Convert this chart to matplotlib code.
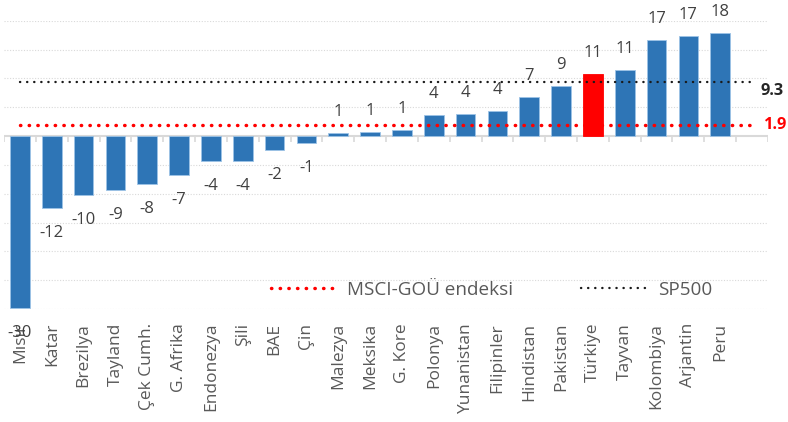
import numpy as np
import matplotlib
matplotlib.use("Agg")
import matplotlib.pyplot as plt
from matplotlib.lines import Line2D

plt.rcParams['font.family'] = ['Open Sans', 'DejaVu Sans']

# Data
countries = ["Mısır", "Katar", "Brezilya", "Tayland", "Çek Cumh.", "G. Afrika",
             "Endonezya", "Şili", "BAE", "Çin", "Malezya", "Meksika", "G. Kore",
             "Polonya", "Yunanistan", "Filipinler", "Hindistan", "Pakistan",
             "Türkiye", "Tayvan", "Kolombiya", "Arjantin", "Peru"]
returns = [-29.8, -12.4, -10.3, -9.4, -8.4, -6.7, -4.4, -4.4, -2.4, -1.2,
           0.6, 0.7, 1.0, 3.6, 3.8, 4.3, 6.8, 8.7, 10.7, 11.4, 16.6, 17.3, 17.9]
highlight = "Türkiye"
msci_em = 1.9
sp500 = 9.3

blue = "#2E75B6"
red = "#FF0000"
label_col = "#404040"
tick_col = "#595959"

fig = plt.figure(figsize=(7.88, 4.22), dpi=100)
ax = fig.add_axes([4 / 788, 1 - 309 / 422, 764 / 788, (309 - 20.7) / 422])

n = len(countries)
x = np.arange(n)
colors = [red if c == highlight else blue for c in countries]
edges = [red if c == highlight else "#9DC3E6" for c in countries]
ax.bar(x, returns, width=0.62, color=colors, edgecolor=edges, linewidth=0.6, zorder=3)

# value labels
for xi, v in zip(x, returns):
    off = 15 if v > 0 else -18
    ax.annotate(f"{v:.0f}", (xi, v), xytext=(0, off), textcoords="offset points",
                ha="center", va="center", fontsize=12, color=label_col, zorder=5,
                annotation_clip=False)

# benchmark lines
ax.plot([0, n], [msci_em, msci_em], color=red, lw=2.5, linestyle=(0, (0.1, 2.4)),
        dash_capstyle="round", zorder=4)
ax.plot([0, n], [sp500, sp500], color="#1a1a1a", lw=1.7, linestyle=(0, (0.1, 2.9)),
        dash_capstyle="round", zorder=4)
ax.annotate(f"{sp500}", (n + 0.25, sp500), xytext=(0, -6.5), textcoords="offset points",
            ha="left", va="center", fontsize=11.8, fontweight="bold", color="#262626",
            annotation_clip=False)
ax.annotate(f"{msci_em}", (n + 0.36, msci_em), xytext=(0, 0), textcoords="offset points",
            ha="left", va="center", fontsize=11.8, fontweight="bold", color=red,
            annotation_clip=False)

# grid and zero axis
for g in np.arange(-30, 21, 5):
    if g != 0:
        ax.axhline(g, color="#D9D9D9", lw=0.8, linestyle=(0, (1, 1.5)), zorder=1)
ax.axhline(0, color="#D9D9D9", lw=1.5, zorder=2)
ax.vlines(np.arange(-0.5, n + 1), -1.0, 0, color="#D9D9D9", lw=1.2, zorder=2)

ax.set_xlim(-0.5, n + 0.5)
ax.set_ylim(-30, 20)
ax.set_yticks([])
ax.set_xticks(x)
ax.set_xticklabels(countries, rotation=90, fontsize=12.5, color=tick_col)
ax.tick_params(axis="x", length=0, pad=10)
for s in ax.spines.values():
    s.set_visible(False)

handles = [
    Line2D([], [], color=red, lw=2.5, linestyle=(0, (0.1, 2.4)), dash_capstyle="round"),
    Line2D([], [], color="#1a1a1a", lw=1.7, linestyle=(0, (0.1, 2.9)), dash_capstyle="round"),
]
ax.legend(handles, ["MSCI-GOÜ endeksi", "SP500"], loc="center", ncol=2,
          bbox_to_anchor=(0.638, 0.066), frameon=False, fontsize=13.6,
          handlelength=3.5, handletextpad=0.55, columnspacing=3.6,
          labelcolor=tick_col)

fig.savefig("out.png", dpi=100)
